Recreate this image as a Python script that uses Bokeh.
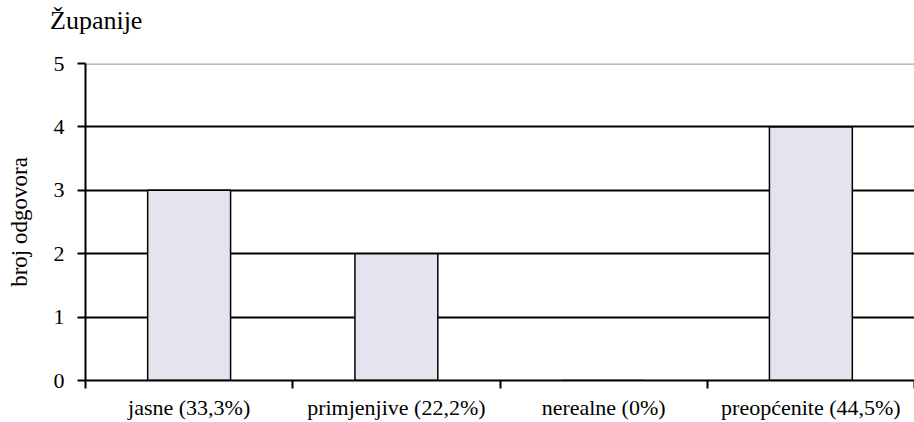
from bokeh.plotting import figure
from bokeh.models import FixedTicker, Range1d, Span, ColumnDataSource, Div
from bokeh.layouts import column
from bokeh.embed import file_html
from bokeh.resources import INLINE

categories = ["jasne (33,3%)", "primjenjive (22,2%)", "nerealne (0%)", "preopćenite (44,5%)"]
counts = [3, 2, 0, 4]
y_ticks = [0, 1, 2, 3, 4, 5]
title_text = "Županije"
y_label = "broj odgovora"

FONT = "Liberation Serif"

centers = [i + 0.5 for i in range(len(categories))]
boundaries = list(range(len(categories) + 1))
src = ColumnDataSource(dict(x=centers, top=counts))

title_div = Div(text=title_text, width=300, height=32, margin=(8, 0, 0, 50),
                styles={"font-family": "'Liberation Serif', serif", "font-size": "26px",
                        "color": "black", "line-height": "1"})

p = figure(width=914, height=382, output_backend="svg", toolbar_location=None,
           x_range=Range1d(0, len(categories)), y_range=Range1d(0, 5),
           min_border_left=85, min_border_right=0, min_border_top=23, min_border_bottom=0)
p.outline_line_color = None
p.background_fill_color = "white"
p.border_fill_color = "white"

p.vbar(x="x", top="top", bottom=0, width=0.4, source=src,
       fill_color="#E4E4EF", line_color="black", line_width=1.5)

# grid
p.xgrid.visible = False
p.ygrid.ticker = FixedTicker(ticks=[1, 2, 3, 4])
p.ygrid.grid_line_color = "black"
p.ygrid.grid_line_width = 2
p.add_layout(Span(location=5, dimension="width", line_color="#A9A5A0", line_width=2.5, level="underlay"))

# x axis
xa = p.xaxis[0]
xa.ticker = FixedTicker(ticks=centers, minor_ticks=boundaries)
xa.major_label_overrides = {c: lab for c, lab in zip(centers, categories)}
xa.major_tick_out = 0
xa.major_tick_in = 0
xa.minor_tick_out = 8
xa.minor_tick_in = 0
xa.minor_tick_line_color = "black"
xa.minor_tick_line_width = 2
xa.axis_line_color = "black"
xa.axis_line_width = 2
xa.major_label_text_font = FONT
xa.major_label_text_font_size = "22px"
xa.major_label_text_color = "black"
xa.major_label_standoff = 6

# y axis
ya = p.yaxis[0]
ya.ticker = FixedTicker(ticks=y_ticks)
ya.minor_tick_line_color = None
ya.major_tick_out = 8
ya.major_tick_in = 0
ya.major_tick_line_width = 2
ya.major_tick_line_color = "black"
ya.axis_line_color = "black"
ya.axis_line_width = 2
ya.major_label_text_font = FONT
ya.major_label_text_font_size = "22px"
ya.major_label_text_color = "black"
ya.major_label_standoff = 13
ya.axis_label = y_label
ya.axis_label_text_font = FONT
ya.axis_label_text_font_style = "normal"
ya.axis_label_text_font_size = "23px"
ya.axis_label_text_color = "black"
ya.axis_label_standoff = 19

layout = column(title_div, p, spacing=0)
open("out.html", "w").write(file_html(layout, INLINE))
